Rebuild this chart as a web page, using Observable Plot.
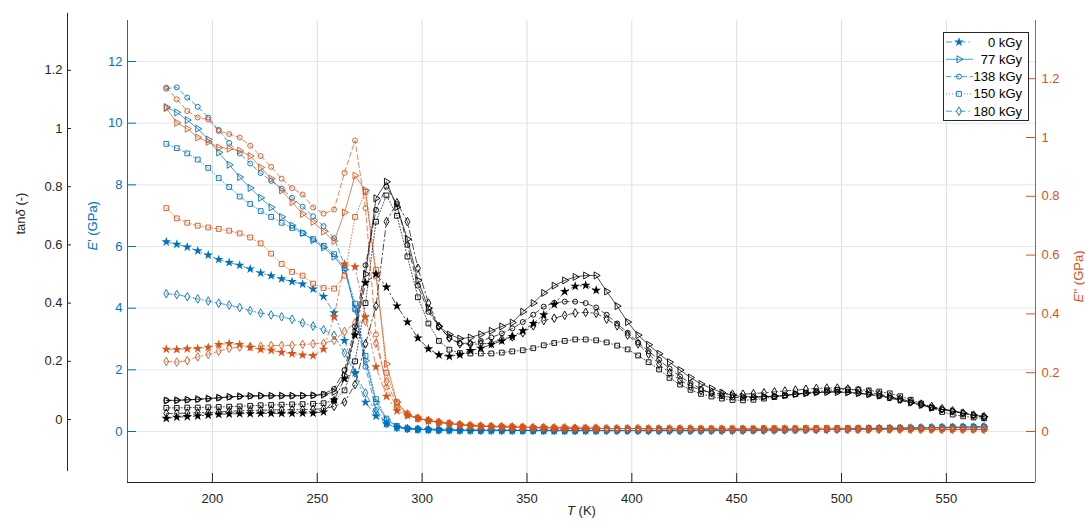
<!DOCTYPE html>
<html><head><meta charset="utf-8">
<script src="https://cdn.jsdelivr.net/npm/d3@7"></script>
<script src="https://cdn.jsdelivr.net/npm/@observablehq/plot@0.6"></script>
<style>
body{margin:0;background:#fff;}
#wrap{position:relative;width:1085px;height:521px;font-family:"Liberation Sans",Arial,Helvetica,sans-serif;}
</style></head><body><div id="wrap"></div>
<script>
// ---------- data ----------
const temps = [178,183,188,193,198,203,208,213,218,223,228,233,238,243,248,253,258,263,268,273,278,283,288,293,298,303,308,313,318,323,328,333,338,343,348,353,358,363,368,373,378,383,388,393,398,403,408,413,418,423,428,433,438,443,448,453,458,463,468,473,478,483,488,493,498,503,508,513,518,523,528,533,538,543,548,553,558,563,568];
const doses = ["0 kGy","77 kGy","138 kGy","150 kGy","180 kGy"];

// storage modulus E' (GPa)
const eStorage0 = [6.15,6.07,5.98,5.86,5.72,5.58,5.48,5.39,5.27,5.14,5.05,4.95,4.86,4.78,4.62,4.38,3.85,2.95,1.9,0.95,0.5,0.25,0.13,0.09,0.07,0.06,0.05,0.045,0.04,0.038,0.036,0.035,0.034,0.033,0.032,0.031,0.03,0.03,0.03,0.03,0.03,0.03];
const eStorage77 = [10.52,10.35,10.1,9.82,9.47,9.05,8.65,8.25,7.9,7.58,7.27,6.96,6.68,6.44,6.2,5.97,5.67,5.25,4.0,2.3,0.95,0.38,0.16,0.1,0.07,0.06,0.05,0.045,0.04,0.038,0.036,0.035,0.034,0.033,0.032,0.031,0.03,0.03,0.03,0.03,0.03,0.03,0.03,0.03,0.03,0.03,0.03,0.03,0.03,0.03,0.03,0.031,0.032,0.033,0.035,0.037,0.04,0.043,0.046,0.05,0.054,0.058,0.062,0.067,0.072,0.077,0.082,0.088,0.094,0.1,0.106,0.112,0.118,0.124,0.13,0.135,0.14,0.145,0.15];
const eStorage138 = [11.12,11.16,10.83,10.53,10.18,9.78,9.36,9.02,8.69,8.38,8.13,7.88,7.58,7.29,6.98,6.66,6.27,5.4,3.95,2.1,0.7,0.25,0.12,0.08,0.07,0.06,0.05,0.045,0.04,0.038,0.036,0.035,0.034,0.033,0.032,0.031,0.03,0.03,0.03,0.03,0.03,0.03,0.03,0.03,0.03,0.03,0.03,0.03,0.03,0.03,0.03,0.031,0.032,0.034,0.036,0.038,0.041,0.044,0.047,0.051,0.055,0.059,0.063,0.068,0.073,0.078,0.083,0.089,0.095,0.101,0.107,0.113,0.119,0.125,0.131,0.136,0.141,0.146,0.151];
const eStorage150 = [9.33,9.19,9.02,8.82,8.55,8.22,7.93,7.62,7.38,7.15,6.96,6.77,6.6,6.43,6.24,6.02,5.75,5.3,4.15,2.45,1.05,0.42,0.18,0.1,0.075,0.062,0.052,0.046,0.041,0.039,0.037,0.036,0.035,0.034,0.033,0.032,0.031,0.031,0.03,0.03,0.03,0.03,0.03,0.03,0.03,0.03,0.03,0.03,0.03,0.03,0.031,0.032,0.033,0.034,0.036,0.038,0.041,0.044,0.048,0.052,0.056,0.06,0.065,0.07,0.075,0.08,0.086,0.092,0.098,0.104,0.11,0.116,0.122,0.128,0.134,0.139,0.144,0.149,0.153];
const eStorage180 = [4.47,4.44,4.37,4.3,4.23,4.16,4.1,4.02,3.92,3.84,3.78,3.72,3.64,3.52,3.42,3.3,3.12,2.55,1.9,1.25,0.6,0.25,0.13,0.09,0.07,0.06,0.05,0.045,0.04,0.038,0.036,0.035,0.034,0.033,0.032,0.031,0.03,0.03,0.03,0.03,0.03,0.03,0.03,0.03,0.03,0.03,0.03,0.03,0.03,0.03,0.03,0.031,0.032,0.033,0.035,0.037,0.04,0.043,0.046,0.05,0.054,0.058,0.062,0.067,0.072,0.077,0.082,0.088,0.094,0.1,0.106,0.112,0.118,0.124,0.13,0.135,0.14,0.145,0.15];

// loss modulus E'' (GPa)
const eLoss0 = [0.28,0.279,0.281,0.282,0.286,0.296,0.299,0.296,0.286,0.279,0.276,0.269,0.265,0.26,0.258,0.28,0.39,0.57,0.56,0.39,0.22,0.12,0.07,0.055,0.045,0.037,0.031,0.027,0.023,0.02,0.018,0.017,0.016,0.015,0.014,0.013,0.013,0.012,0.012,0.011,0.011,0.011];
const eLoss77 = [1.1,1.05,1.03,1.0,0.985,0.966,0.962,0.955,0.937,0.898,0.86,0.82,0.78,0.74,0.713,0.68,0.648,0.745,0.87,0.82,0.53,0.23,0.1,0.055,0.045,0.037,0.031,0.027,0.023,0.02,0.018,0.017,0.016,0.015,0.014,0.013,0.013,0.012,0.012,0.011,0.011,0.011,0.01,0.01,0.01,0.01,0.009,0.009,0.009,0.009,0.009,0.008,0.008,0.008,0.008,0.008,0.008,0.008,0.008,0.008,0.008,0.008,0.008,0.008,0.008,0.007,0.007,0.007,0.007,0.007,0.007,0.007,0.007,0.007,0.007,0.007,0.007,0.007,0.007];
const eLoss138 = [1.17,1.13,1.09,1.068,1.061,1.022,1.012,1.0,0.972,0.937,0.9,0.86,0.828,0.806,0.762,0.741,0.755,0.88,0.99,0.76,0.33,0.15,0.08,0.055,0.045,0.037,0.031,0.027,0.023,0.02,0.018,0.017,0.016,0.015,0.014,0.013,0.013,0.012,0.012,0.011,0.011,0.011,0.01,0.01,0.01,0.01,0.009,0.009,0.009,0.009,0.009,0.008,0.008,0.008,0.008,0.008,0.008,0.008,0.008,0.008,0.008,0.008,0.008,0.008,0.008,0.007,0.007,0.007,0.007,0.007,0.007,0.007,0.007,0.007,0.007,0.007,0.007,0.007,0.007];
const eLoss150 = [0.76,0.725,0.71,0.7,0.694,0.689,0.683,0.674,0.66,0.64,0.605,0.57,0.543,0.53,0.503,0.488,0.486,0.53,0.73,0.815,0.55,0.2,0.1,0.06,0.045,0.037,0.031,0.027,0.023,0.02,0.018,0.017,0.016,0.015,0.014,0.013,0.013,0.012,0.012,0.011,0.011,0.011,0.01,0.01,0.01,0.01,0.01,0.01,0.01,0.01,0.01,0.01,0.01,0.01,0.01,0.01,0.01,0.011,0.011,0.011,0.011,0.012,0.012,0.012,0.012,0.012,0.012,0.012,0.012,0.011,0.011,0.01,0.01,0.01,0.009,0.009,0.009,0.009,0.008];
const eLoss180 = [0.238,0.236,0.241,0.254,0.262,0.273,0.283,0.287,0.289,0.29,0.292,0.293,0.293,0.296,0.298,0.3,0.31,0.34,0.37,0.375,0.3,0.17,0.09,0.06,0.045,0.037,0.031,0.027,0.023,0.02,0.018,0.017,0.016,0.015,0.014,0.013,0.013,0.012,0.012,0.011,0.011,0.011,0.01,0.01,0.01,0.01,0.009,0.009,0.009,0.009,0.009,0.008,0.008,0.008,0.008,0.008,0.008,0.008,0.008,0.008,0.008,0.008,0.008,0.008,0.008,0.007,0.007,0.007,0.007,0.007,0.007,0.007,0.007,0.007,0.007,0.007,0.007,0.007,0.007];

// loss factor tan delta (-)
const tanDelta0 = [0.004,0.008,0.01,0.012,0.015,0.018,0.019,0.02,0.02,0.021,0.021,0.021,0.021,0.022,0.022,0.026,0.067,0.14,0.29,0.47,0.5,0.455,0.39,0.335,0.28,0.243,0.222,0.217,0.222,0.237,0.245,0.258,0.27,0.285,0.305,0.33,0.36,0.395,0.44,0.458,0.461,0.444];
const tanDelta77 = [0.065,0.066,0.068,0.07,0.072,0.075,0.078,0.08,0.081,0.082,0.082,0.082,0.082,0.082,0.083,0.085,0.095,0.15,0.3,0.5,0.76,0.817,0.73,0.62,0.478,0.383,0.32,0.292,0.278,0.282,0.293,0.305,0.32,0.333,0.37,0.4,0.435,0.46,0.478,0.49,0.495,0.495,0.44,0.39,0.335,0.29,0.257,0.226,0.197,0.17,0.144,0.122,0.107,0.092,0.083,0.079,0.078,0.079,0.08,0.083,0.087,0.09,0.093,0.094,0.094,0.093,0.09,0.087,0.082,0.076,0.068,0.058,0.05,0.04,0.034,0.028,0.022,0.015,0.009];
const tanDelta138 = [0.066,0.066,0.067,0.069,0.071,0.074,0.077,0.079,0.08,0.081,0.081,0.081,0.081,0.082,0.083,0.088,0.105,0.17,0.32,0.53,0.72,0.8,0.74,0.6,0.46,0.37,0.32,0.28,0.262,0.262,0.27,0.282,0.296,0.313,0.335,0.36,0.388,0.401,0.405,0.405,0.4,0.385,0.36,0.33,0.298,0.265,0.235,0.205,0.175,0.148,0.125,0.105,0.09,0.08,0.076,0.075,0.076,0.078,0.08,0.083,0.087,0.09,0.093,0.095,0.096,0.094,0.09,0.086,0.08,0.073,0.066,0.058,0.05,0.042,0.035,0.029,0.022,0.015,0.009];
const tanDelta150 = [0.04,0.04,0.041,0.041,0.042,0.043,0.044,0.045,0.047,0.049,0.05,0.051,0.052,0.053,0.054,0.056,0.065,0.1,0.2,0.4,0.68,0.77,0.7,0.56,0.42,0.33,0.27,0.24,0.228,0.227,0.227,0.227,0.23,0.234,0.238,0.245,0.255,0.263,0.27,0.275,0.275,0.272,0.265,0.254,0.241,0.22,0.197,0.172,0.143,0.12,0.102,0.088,0.079,0.072,0.067,0.066,0.068,0.072,0.077,0.082,0.087,0.092,0.096,0.1,0.102,0.103,0.103,0.1,0.096,0.09,0.08,0.068,0.055,0.04,0.026,0.017,0.011,0.007,0.004];
const tanDelta180 = [0.021,0.021,0.022,0.023,0.024,0.026,0.028,0.03,0.031,0.032,0.033,0.033,0.034,0.034,0.035,0.037,0.045,0.06,0.12,0.26,0.39,0.68,0.745,0.68,0.52,0.4,0.32,0.28,0.26,0.258,0.26,0.262,0.276,0.284,0.298,0.322,0.34,0.348,0.358,0.366,0.368,0.365,0.345,0.322,0.29,0.26,0.225,0.19,0.16,0.135,0.115,0.1,0.093,0.088,0.087,0.087,0.089,0.092,0.095,0.098,0.101,0.104,0.107,0.108,0.108,0.105,0.1,0.094,0.087,0.079,0.07,0.062,0.053,0.045,0.037,0.03,0.022,0.015,0.01];

// ticks
const xTicks = [200,250,300,350,400,450,500,550];
const storageTicks = [0,2,4,6,8,10,12];
const lossTicks = [0,0.2,0.4,0.6,0.8,1,1.2];
const tanTicks = [0,0.2,0.4,0.6,0.8,1,1.2];
const axisLabels = {tan: "tanδ (-)", storage: "E' (GPa)", loss: "E'' (GPa)", x: "T (K)"};

// ---------- axes limits (three y axes share one pixel frame) ----------
const xDomain = [159.5, 592.5];
const storageDomain = [-1.654, 13.33];
const tanRange = [-0.179, 1.396];
const lossToE = v => v * 9.535;               // E'' axis expressed in E' units
const tanToE = t => 0.389 + 9.438 * t;        // tan delta axis expressed in E' units
const fmt = v => String(+v.toFixed(1));

const C = {blue: "#0072BD", orange: "#D95319", black: "#000000", ink: "#262626"};
const series = [
  {dose: doses[0], symbol: "star", filled: true, r: 3.0, dash: "6,3,1.5,3", E: eStorage0, L: eLoss0, tan: tanDelta0},
  {dose: doses[1], symbol: "triangle", filled: false, r: 2.6, rotate: 90, dash: null, E: eStorage77, L: eLoss77, tan: tanDelta77},
  {dose: doses[2], symbol: "circle", filled: false, r: 2.5, dash: "5,3", E: eStorage138, L: eLoss138, tan: tanDelta138},
  {dose: doses[3], symbol: "square", filled: false, r: 2.7, dash: "1,2", E: eStorage150, L: eLoss150, tan: tanDelta150},
  {dose: doses[4], symbol: "diamond", filled: false, r: 2.6, dash: "6,3,1.5,3", E: eStorage180, L: eLoss180, tan: tanDelta180}
];
const groups = [
  {key: "E", color: C.blue, conv: v => v},
  {key: "L", color: C.orange, conv: lossToE},
  {key: "tan", color: C.black, conv: tanToE}
];

const W = 1085, H = 521, mL = 127, mR = 50, mT = 20, mB = 39;
const frameW = W - mL - mR, frameH = H - mT - mB;

const marks = [];
marks.push(Plot.ruleX(xTicks, {x: d => d, stroke: "#dedede", strokeWidth: 1}));
marks.push(Plot.ruleY(storageTicks, {y: d => d, stroke: "#dce9f4", strokeWidth: 1}));

for (const g of groups) {
  for (const s of series) {
    const arr = s[g.key];
    const n = Math.min(arr.length, temps.length);
    const rows = [];
    for (let i = 0; i < n; i++) rows.push({T: temps[i], v: g.conv(arr[i])});
    marks.push(Plot.line(rows, {x: "T", y: "v", stroke: g.color, strokeWidth: 0.7, strokeDasharray: s.dash || undefined}));
    marks.push(Plot.dot(rows, {
      x: "T", y: "v", symbol: s.symbol, r: s.r, rotate: s.rotate || undefined,
      fill: s.filled ? g.color : "none", stroke: s.filled ? "none" : g.color, strokeWidth: 0.9
    }));
  }
}

// axis lines
marks.push(Plot.ruleX([xDomain[0]], {x: d => d, y1: storageDomain[0], y2: storageDomain[1], stroke: C.blue}));
marks.push(Plot.ruleX([xDomain[1]], {x: d => d, y1: storageDomain[0], y2: storageDomain[1], stroke: C.orange}));
marks.push(Plot.ruleY([storageDomain[0]], {y: d => d, x1: xDomain[0], x2: xDomain[1], stroke: C.ink}));
marks.push(Plot.ruleX([xDomain[0]], {x: d => d, y1: tanToE(tanRange[0]), y2: tanToE(tanRange[1]), dx: -60, stroke: C.ink}));
// inward ticks
marks.push(Plot.tickX(xTicks, {x: d => d, insetTop: frameH - 9, stroke: C.ink}));
marks.push(Plot.tickY(storageTicks, {y: d => d, insetRight: frameW - 9, stroke: C.blue}));
marks.push(Plot.tickY(lossTicks.map(lossToE), {y: d => d, insetLeft: frameW - 9, stroke: C.orange}));
marks.push(Plot.tickY(tanTicks.map(tanToE), {y: d => d, insetRight: frameW - 4, dx: -60, stroke: C.ink}));
// tick labels
marks.push(Plot.axisX(xTicks, {anchor: "bottom", tickSize: 0, tickPadding: 11, label: null, color: C.ink, fill: C.ink}));
marks.push(Plot.axisY(storageTicks, {anchor: "left", tickSize: 0, tickPadding: 5, label: null, color: C.blue, fill: C.blue}));
marks.push(Plot.axisY(lossTicks.map(lossToE), {anchor: "right", tickSize: 0, tickPadding: 6, label: null, tickFormat: d => fmt(d / 9.535), color: C.orange, fill: C.orange}));
marks.push(Plot.axisY(tanTicks.map(tanToE), {anchor: "left", tickSize: 0, tickPadding: 5, dx: -60, label: null, tickFormat: d => fmt((d - 0.389) / 9.438), color: C.ink, fill: C.ink}));
// axis titles
marks.push(Plot.text([axisLabels.tan], {text: d => d, frameAnchor: "left", dx: -107, dy: -17, rotate: -90, fill: C.ink}));
marks.push(Plot.text([axisLabels.storage], {text: d => d, frameAnchor: "left", dx: -35, dy: -1, rotate: -90, fill: C.blue}));
marks.push(Plot.text([axisLabels.loss], {text: d => d, frameAnchor: "right", dx: 43, dy: -1, rotate: -90, fill: C.orange}));
marks.push(Plot.text([axisLabels.x], {text: d => d, frameAnchor: "bottom", dy: 32, fill: C.ink}));

const svg = Plot.plot({
  width: W, height: H, marginLeft: mL, marginRight: mR, marginTop: mT, marginBottom: mB,
  x: {domain: xDomain},
  y: {domain: storageDomain},
  style: {fontFamily: '"Liberation Sans", Arial, Helvetica, sans-serif', fontSize: "13px", background: "white", color: C.ink},
  marks
});
document.getElementById("wrap").appendChild(svg);

// italic math letters in titles
const italics = {
  [axisLabels.tan]: [["tan", false], ["δ", true], [" (-)", false]],
  [axisLabels.storage]: [["E", true], ["' (GPa)", false]],
  [axisLabels.loss]: [["E", true], ["'' (GPa)", false]],
  [axisLabels.x]: [["T", true], [" (K)", false]]
};
d3.select(svg).selectAll("text").each(function () {
  const parts = italics[this.textContent];
  if (!parts) return;
  const sel = d3.select(this);
  sel.text(null);
  for (const [s, it] of parts) sel.append("tspan").attr("font-style", it ? "italic" : null).text(s);
});

// legend
const symMap = {star: d3.symbolStar, triangle: d3.symbolTriangle, circle: d3.symbolCircle, square: d3.symbolSquare, diamond: d3.symbolDiamond};
const leg = d3.select("#wrap").append("svg").attr("width", 86).attr("height", 89)
  .style("position", "absolute").style("left", "943px").style("top", "32px");
leg.append("rect").attr("x", 0.5).attr("y", 0.5).attr("width", 85).attr("height", 88)
  .attr("fill", "white").attr("stroke", C.ink).attr("stroke-width", 1);
series.forEach((s, i) => {
  const cy = 10 + i * 17.3;
  leg.append("line").attr("x1", 3).attr("x2", 30).attr("y1", cy).attr("y2", cy)
    .attr("stroke", C.blue).attr("stroke-width", 0.7).attr("stroke-dasharray", s.dash);
  leg.append("path").attr("d", d3.symbol(symMap[s.symbol], Math.PI * s.r * s.r)())
    .attr("transform", `translate(16,${cy}) rotate(${s.rotate || 0})`)
    .attr("fill", s.filled ? C.blue : "none").attr("stroke", s.filled ? "none" : C.blue).attr("stroke-width", 0.9);
  leg.append("text").attr("x", 79).attr("y", cy).attr("dy", "0.35em").attr("text-anchor", "end")
    .attr("font-size", 13).attr("fill", "#000").attr("font-family", '"Liberation Sans", Arial, sans-serif').text(s.dose);
});
</script>
</body></html>
